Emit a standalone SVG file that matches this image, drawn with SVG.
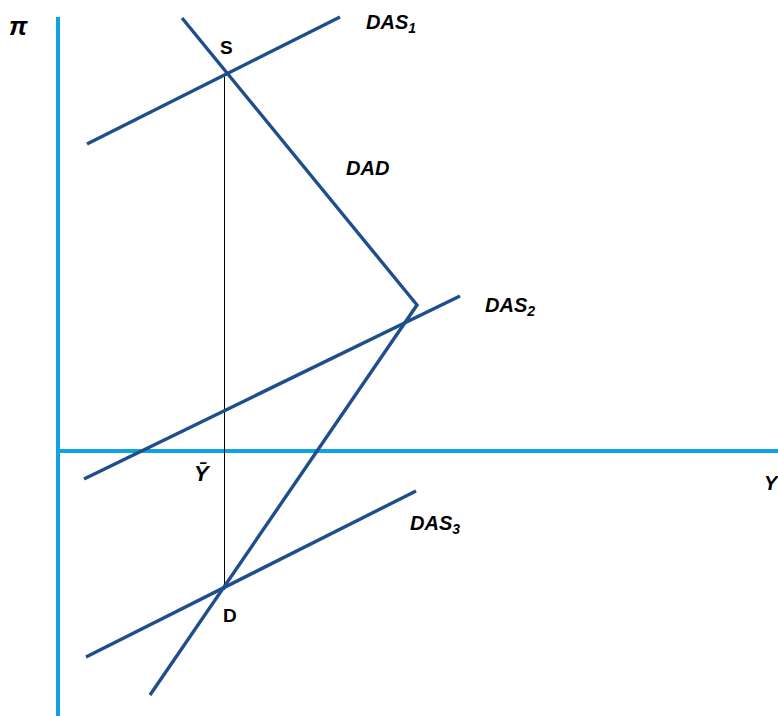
<svg xmlns="http://www.w3.org/2000/svg" width="778" height="716" viewBox="0 0 778 716">
<style>
.axis{stroke:#0FA3E0;stroke-width:4;fill:none}
.curve{stroke:#1F4E8C;stroke-width:3.4;fill:none;stroke-linecap:butt}
.guide{stroke:#000;stroke-width:1;fill:none}
.lbl{font-family:"Liberation Sans",Arial,sans-serif;font-weight:bold;font-style:italic;font-size:20px;fill:#000}
.pt{font-family:"Liberation Sans",Arial,sans-serif;font-weight:bold;font-size:19px;fill:#000}
.sub{font-size:14px}
</style>
<rect width="778" height="716" fill="#fff"/>
<g id="axes">
<line class="axis" x1="58" y1="17" x2="58" y2="716"/>
<line class="axis" x1="58" y1="451" x2="778" y2="451"/>
</g>
<g id="connectors">
<line class="guide" x1="224.5" y1="74" x2="224.5" y2="590"/>
</g>
<g id="DAS1"><line class="curve" x1="87" y1="144" x2="340" y2="17"/><text class="lbl" x="366" y="29">DAS<tspan class="sub" dy="4">1</tspan></text></g>
<g id="DAD"><polyline class="curve" points="182,18 417,305 150,695"/><text class="lbl" x="346" y="175">DAD</text></g>
<g id="DAS2"><line class="curve" x1="84" y1="479" x2="460" y2="296"/><text class="lbl" x="485" y="312">DAS<tspan class="sub" dy="4">2</tspan></text></g>
<g id="DAS3"><line class="curve" x1="86" y1="657" x2="416" y2="491"/><text class="lbl" x="410" y="530">DAS<tspan class="sub" dy="4">3</tspan></text></g>
<g id="S"><text class="pt" x="220" y="54">S</text></g>
<g id="D"><text class="pt" x="223" y="622">D</text></g>
<g id="pi"><text class="lbl" x="9" y="35" style="font-size:26px">π</text></g>
<g id="Ybar"><text class="lbl" x="194" y="481" style="font-size:22px">Ȳ</text></g>
<g id="Y"><text class="lbl" x="764" y="490">Y</text></g>
</svg>
